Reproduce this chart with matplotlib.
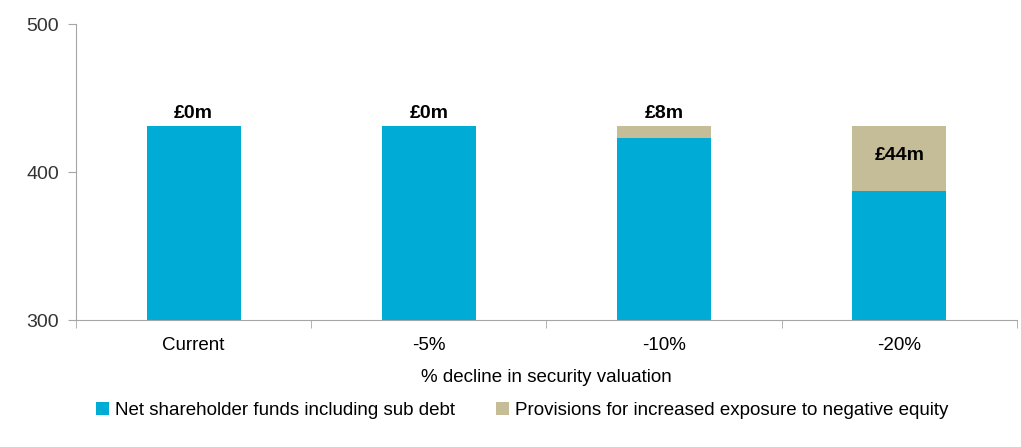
import numpy as np
import matplotlib.pyplot as plt

# Scenario data (£m)
categories = ['Current', '-5%', '-10%', '-20%']
net_funds = [431, 431, 423, 387]
provisions = [0, 0, 8, 44]
labels = ['£0m', '£0m', '£8m', '£44m']

blue = '#00ABD5'
tan = '#C4BD97'
axis_grey = '#A6A6A6'

plt.rcParams['font.family'] = ['Liberation Sans', 'DejaVu Sans']

fig = plt.figure(figsize=(10.21, 4.47), dpi=100)
ax = fig.add_axes([0.0744, 0.2841, 0.9217, 0.6622])

x = np.arange(len(categories))
ax.bar(x, net_funds, width=0.4, color=blue, label='Net shareholder funds including sub debt')
ax.bar(x, provisions, width=0.4, bottom=net_funds, color=tan,
       label='Provisions for increased exposure to negative equity')

# value labels: small provisions above the bar, large ones inside
for xi, base, p, txt in zip(x, net_funds, provisions, labels):
    if p < 20:
        ax.text(xi, base + p + 3, txt, ha='center', va='bottom', fontsize=14, fontweight='bold')
    else:
        ax.text(xi, base + p / 2 + 2, txt, ha='center', va='center', fontsize=14, fontweight='bold')

ax.set_xlim(-0.5, len(categories) - 0.5)
ax.set_ylim(300, 500)
ax.set_yticks([300, 400, 500])

ax.set_xticks(x)
ax.set_xticklabels(categories, fontsize=13.5)
ax.set_xticks(np.arange(-0.5, len(categories)), minor=True)
ax.tick_params(axis='x', which='major', length=0, pad=12)
ax.tick_params(axis='x', which='minor', length=6, color=axis_grey, direction='out')
ax.tick_params(axis='y', labelsize=14, length=6, color=axis_grey, pad=6, labelcolor='#333333')

for side in ['top', 'right']:
    ax.spines[side].set_visible(False)
for side in ['left', 'bottom']:
    ax.spines[side].set_color(axis_grey)

ax.set_xlabel('% decline in security valuation', fontsize=13.5, labelpad=11)

ax.legend(loc='center', bbox_to_anchor=(0.474, -0.307), ncol=2, frameon=False,
          fontsize=13.5, handlelength=0.7, handleheight=0.7, handletextpad=0.3,
          columnspacing=2.2)

fig.savefig('out.png', dpi=100)
